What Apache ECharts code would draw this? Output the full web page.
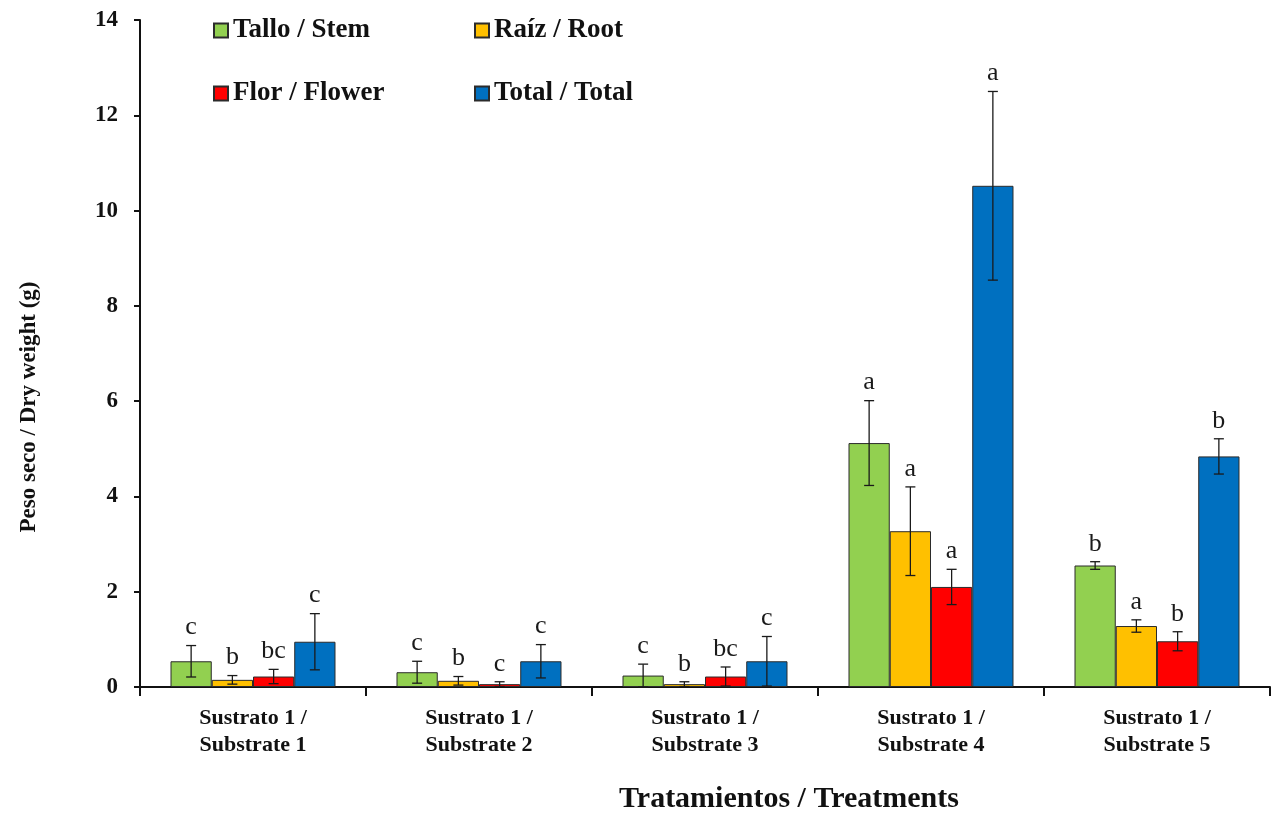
<!DOCTYPE html>
<html>
<head>
<meta charset="utf-8">
<script src="https://cdn.jsdelivr.net/npm/echarts@6/dist/echarts.min.js"></script>
<style>
html,body{margin:0;padding:0;background:#fff;}
#chart{width:1279px;height:815px;}
</style>
</head>
<body>
<div id="chart"></div>
<script>
const categories = ['Sustrato 1 /\nSubstrate 1','Sustrato 1 /\nSubstrate 2','Sustrato 1 /\nSubstrate 3','Sustrato 1 /\nSubstrate 4','Sustrato 1 /\nSubstrate 5'];
const seriesNames = ['Tallo / Stem','Raíz / Root','Flor / Flower','Total / Total'];
const stemValues   = [0.54, 0.31, 0.24, 5.12, 2.55];
const rootValues   = [0.15, 0.13, 0.06, 3.27, 1.28];
const flowerValues = [0.22, 0.06, 0.22, 2.10, 0.96];
const totalValues  = [0.95, 0.54, 0.54, 10.52, 4.84];
const stemErr   = [0.33, 0.23, 0.24, 0.89, 0.08];
const rootErr   = [0.09, 0.09, 0.05, 0.93, 0.13];
const flowerErr = [0.15, 0.05, 0.20, 0.37, 0.20];
const totalErr  = [0.59, 0.35, 0.52, 1.98, 0.37];
const stemLetters   = ['c','c','c','a','b'];
const rootLetters   = ['b','b','b','a','a'];
const flowerLetters = ['bc','c','bc','a','b'];
const totalLetters  = ['c','c','c','a','b'];
const yTicks = [0, 2, 4, 6, 8, 10, 12, 14];
const xAxisTitle = 'Tratamientos / Treatments';
const yAxisTitle = 'Peso seco / Dry weight (g)';

const colors = ['#92d050','#ffc000','#ff0000','#0070c0'];
const values = [stemValues, rootValues, flowerValues, totalValues];
const errs = [stemErr, rootErr, flowerErr, totalErr];
const letters = [stemLetters, rootLetters, flowerLetters, totalLetters];
const GAP = 0.27;
const serif = '"Liberation Serif", "Times New Roman", serif';

const series = [];
seriesNames.forEach((name, k) => {
  series.push({
    name: name,
    type: 'bar',
    data: values[k],
    barGap: '0%',
    barCategoryGap: (GAP*100) + '%',
    itemStyle: {color: colors[k], borderColor: '#2b2b2b', borderWidth: 1},
    emphasis: {disabled: true},
    z: 2
  });
});
seriesNames.forEach((name, k) => {
  series.push({
    name: name + ' err',
    type: 'custom',
    z: 5,
    silent: true,
    encode: {x: 0, y: 1},
    data: values[k].map((v, i) => [i, v, errs[k][i]]),
    renderItem: function (params, api) {
      const xi = api.value(0);
      const v = api.value(1);
      const e = api.value(2);
      const letter = letters[k][params.dataIndex];
      const band = api.size([1, 0])[0];
      const w = band * (1 - GAP) / 4;
      const cx = api.coord([xi, 0])[0] + (k - 1.5) * w;
      const top = api.coord([xi, v + e])[1];
      const bot = api.coord([xi, Math.max(v - e, 0)])[1];
      const cap = 5;
      const ls = {stroke: '#1a1a1a', lineWidth: 1.3};
      return {
        type: 'group',
        children: [
          {type: 'line', shape: {x1: cx, y1: top, x2: cx, y2: bot}, style: ls},
          {type: 'line', shape: {x1: cx - cap, y1: top, x2: cx + cap, y2: top}, style: ls},
          {type: 'line', shape: {x1: cx - cap, y1: bot, x2: cx + cap, y2: bot}, style: ls},
          {type: 'text', style: {text: letter, x: cx, y: top - 5, textAlign: 'center', textVerticalAlign: 'bottom',
            font: '26px ' + serif, fill: '#1a1a1a'}}
        ]
      };
    }
  });
});

const legendText = {fontFamily: serif, fontWeight: 'bold', fontSize: 27, color: '#111'};
const chart = echarts.init(document.getElementById('chart'));
chart.setOption({
  animation: false,
  backgroundColor: '#ffffff',
  grid: {left: 140, right: 9, top: 20, bottom: 128, containLabel: false},
  legend: [
    {data: [seriesNames[0], seriesNames[2]], orient: 'vertical', left: 208, top: 12, itemGap: 36,
     itemWidth: 14, itemHeight: 14, icon: 'rect', textStyle: legendText},
    {data: [seriesNames[1], seriesNames[3]], orient: 'vertical', left: 469, top: 12, itemGap: 36,
     itemWidth: 14, itemHeight: 14, icon: 'rect', textStyle: legendText}
  ],
  graphic: [{
    type: 'text', x: 29, y: 407, rotation: Math.PI / 2,
    style: {text: yAxisTitle, textAlign: 'center', textVerticalAlign: 'middle',
      font: 'bold 23px ' + serif, fill: '#111'}
  }, {
    type: 'text', x: 789, y: 799,
    style: {text: xAxisTitle, textAlign: 'center', textVerticalAlign: 'middle',
      font: 'bold 30px ' + serif, fill: '#111'}
  }],
  xAxis: {
    type: 'category',
    data: categories,
    axisLine: {lineStyle: {color: '#111', width: 2}},
    axisTick: {show: true, length: 9, lineStyle: {color: '#111', width: 2}},
    axisLabel: {margin: 18, fontFamily: serif, fontWeight: 'bold', fontSize: 22, lineHeight: 27, color: '#111'}
  },
  yAxis: {
    type: 'value',
    min: yTicks[0], max: yTicks[yTicks.length - 1], interval: 2,
    axisLine: {show: true, lineStyle: {color: '#111', width: 2}},
    axisTick: {show: true, length: 6, lineStyle: {color: '#111', width: 2}},
    splitLine: {show: false},
    axisLabel: {margin: 22, fontFamily: serif, fontWeight: 'bold', fontSize: 23, color: '#111'}
  },
  series: series
});
</script>
</body>
</html>
